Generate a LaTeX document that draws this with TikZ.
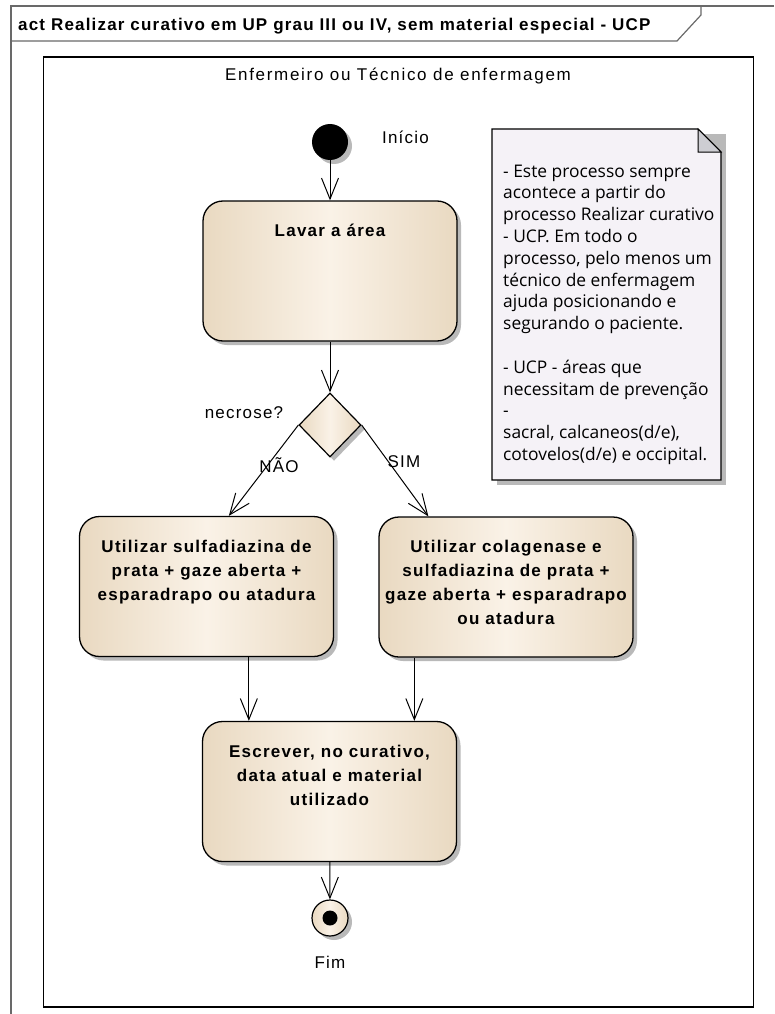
\documentclass[tikz,border=0pt]{standalone}
\usepackage{fontspec}
\setmainfont{Liberation Sans}
\newfontfamily\actfont[LetterSpace=7.5]{Liberation Sans}
\newfontfamily\titlefont[LetterSpace=7]{Liberation Sans}
\newfontfamily\lanefont[LetterSpace=10]{Liberation Sans}
\newfontfamily\labelfont[LetterSpace=7]{Liberation Sans}
\newfontfamily\notefont{Open Sans}
\usetikzlibrary{arrows.meta,shapes.geometric,shadows}

\definecolor{actEdge}{RGB}{233,217,193}
\definecolor{actMid}{RGB}{250,242,231}
\definecolor{noteFill}{RGB}{245,242,247}
\definecolor{earFill}{RGB}{205,205,210}
\definecolor{frameGray}{RGB}{105,105,105}
\definecolor{shadowGray}{RGB}{185,185,185}

% centred lines whose baseline is the first line's
\newcommand{\actlines}[1]{\begin{tabular}[t]{@{}c@{}}#1\end{tabular}}
\newcommand{\notelines}[1]{\begin{tabular}[t]{@{}l@{}}#1\end{tabular}}

\tikzset{
  flow/.style={line width=1pt, -{Straight Barb[length=21pt,width=17pt,line width=1pt]}},
  umlshadow/.style={drop shadow={shadow xshift=4pt,shadow yshift=-4pt,fill=shadowGray,opacity=1}},
  actbox/.style={draw=black, line width=1.3pt, rounded corners=20pt,
    minimum width=254pt, minimum height=140pt, inner sep=0pt,
    left color=actEdge, right color=actEdge, middle color=actMid, umlshadow},
  acttext/.style={font=\actfont\bfseries\fontsize{17}{24}\selectfont, anchor=base, inner sep=0pt},
  plain/.style={font=\labelfont\fontsize{17}{20}\selectfont, inner sep=0pt},
}

\begin{document}
\begin{tikzpicture}[x=1pt,y=-1pt]
\useasboundingbox (0,0) rectangle (774,1014);

% diagram frame with its name tab
\draw[frameGray, line width=1.2pt] (774,6) -- (11,6) -- (11,1014);
\draw[frameGray, line width=1.2pt] (11,41) -- (677,41) -- (701,15) -- (701,6);
\node[font=\titlefont\bfseries\fontsize{17}{20}\selectfont, anchor=base west, inner sep=0pt]
  (title) at (18,30.5) {act Realizar curativo em UP grau III ou IV, sem material especial - UCP};

% activity partition
\node[draw=black, line width=1.4pt, minimum width=710pt, minimum height=950pt, inner sep=0pt]
  (lane) at (398.5,532) {};
\node[font=\lanefont\fontsize{17}{20}\selectfont, inner sep=0pt, anchor=base] (laneTitle) at (398,81) {Enfermeiro ou Técnico de enfermagem};

% initial node
\node[circle, fill=black, minimum size=36pt, inner sep=0pt, umlshadow] (start) at (330,142) {};
\node[plain, anchor=base west] (startLbl) at (382,143) {Início};

% actions
\node[actbox] (lavar) at (330,271) {};
\node[acttext] (lavarT) at (330,236) {Lavar a área};

\node[diamond, draw=black, line width=1.2pt, minimum width=62pt, minimum height=64pt,
  inner sep=0pt, left color=actEdge, right color=actEdge, middle color=actMid, umlshadow]
  (dec) at (330,425) {};
\node[plain] (decLbl) at (244,413) {necrose?};

\node[actbox] (left) at (206.5,586.5) {};
\node[acttext] (leftT) at (206.5,552) {\actlines{Utilizar sulfadiazina de\\prata + gaze aberta +\\esparadrapo ou atadura}};

\node[actbox] (right) at (506,587) {};
\node[acttext] (rightT) at (506,552.5) {\actlines{Utilizar colagenase e\\sulfadiazina de prata +\\gaze aberta + esparadrapo\\ou atadura}};

\node[actbox] (escrever) at (329.5,791.5) {};
\node[acttext] (escreverT) at (329.5,757) {\actlines{Escrever, no curativo,\\data atual e material\\utilizado}};

% final node
\node[circle, draw=black, line width=1.2pt, minimum size=36pt, inner sep=0pt,
  left color=actEdge, right color=actEdge, middle color=actMid, umlshadow] (fim) at (330,918) {};
\node[circle, fill=black, minimum size=15pt, inner sep=0pt] (fimDot) at (fim.center) {};
\node[plain] (fimLbl) at (330,962) {Fim};

% note
\fill[shadowGray] (497,134) -- (726,134) -- (726,485) -- (497,485) -- cycle;
\draw[black, line width=1.2pt, fill=noteFill] (492,129) -- (698,129) -- (721,152) -- (721,480) -- (492,480) -- cycle;
\draw[black, line width=1pt, fill=earFill] (698,129) -- (698,152) -- (721,152) -- cycle;
\node[font=\notefont\fontsize{17.4}{21.8}\selectfont, anchor=base west, inner sep=0pt]
  (note) at (503,177) {\notelines{- Este processo sempre\\acontece a partir do\\processo Realizar curativo\\- UCP. Em todo o\\processo, pelo menos um\\técnico de enfermagem\\ajuda posicionando e\\segurando o paciente.\\ \\- UCP - áreas que\\necessitam de prevenção\\-\\sacral, calcaneos(d/e),\\cotovelos(d/e) e occipital.}};

% control flows
\draw[flow] (start) -- (lavar);
\draw[flow] (lavar) -- (dec);
\draw[flow] (dec.west) -- ([xshift=150pt]left.north west);
\draw[flow] (dec.east) -- ([xshift=50pt]right.north west);
\draw[flow] ([xshift=170pt]left.south west) -- ([xshift=170pt]left.south west |- escrever.north);
\draw[flow] ([xshift=36pt]right.south west) -- ([xshift=36pt]right.south west |- escrever.north);
\draw[flow] (escrever) -- (fim);
\node[plain] (naoLbl) at (279,465) {NÃO};
\node[plain] (simLbl) at (404,462) {SIM};
\end{tikzpicture}
\end{document}
